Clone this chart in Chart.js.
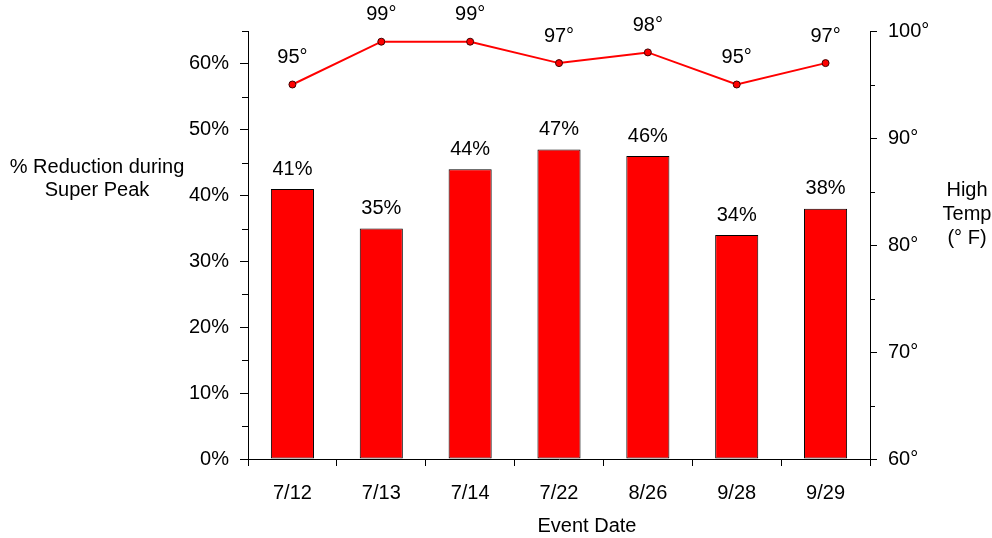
<!DOCTYPE html>
<html>
<head>
<meta charset="utf-8">
<script src="https://cdn.jsdelivr.net/npm/chart.js@4"></script>
<style>
  html, body { margin: 0; padding: 0; background: #fff; }
  #wrap { width: 992px; height: 538px; position: relative; }
</style>
</head>
<body>
<div id="wrap"><canvas id="chart"></canvas></div>
<script>
const eventDates = ['7/12', '7/13', '7/14', '7/22', '8/26', '9/28', '9/29'];
const reduction  = [41, 35, 44, 47, 46, 34, 38];
const highTemp   = [95, 99, 99, 97, 98, 95, 97];
const pctTicks   = [0, 10, 20, 30, 40, 50, 60];
const tempTicks  = [60, 70, 80, 90, 100];

const FONT = 'Liberation Sans, Arial, sans-serif';

// minor ticks, value labels and the horizontal axis titles
const extras = {
    id: 'extras',
    afterDraw(chart) {
        const ctx = chart.ctx;
        const y = chart.scales.y, y2 = chart.scales.y2;
        ctx.save();
        ctx.strokeStyle = '#000';
        ctx.lineWidth = 1;
        ctx.beginPath();
        for (let v = 5; v <= 65; v += 10) {
            const py = Math.round(y.getPixelForValue(v)) + 0.5;
            ctx.moveTo(y.right - 6, py);
            ctx.lineTo(y.right, py);
        }
        for (let v = 65; v <= 95; v += 10) {
            const py = Math.round(y2.getPixelForValue(v)) + 0.5;
            ctx.moveTo(y2.left, py);
            ctx.lineTo(y2.left + 5, py);
        }
        ctx.stroke();

        ctx.fillStyle = '#000';
        ctx.font = '20px ' + FONT;
        ctx.textAlign = 'center';
        ctx.textBaseline = 'middle';
        chart.getDatasetMeta(0).data.forEach((bar, i) => {
            ctx.fillText(reduction[i] + '%', bar.x, bar.y - 20);
        });
        chart.getDatasetMeta(1).data.forEach((pt, i) => {
            ctx.fillText(highTemp[i] + '°', pt.x, pt.y - 27);
        });

        ctx.fillText('% Reduction during', 97, 167);
        ctx.fillText('Super Peak', 97, 190);
        ctx.fillText('High', 967, 190);
        ctx.fillText('Temp', 967, 214);
        ctx.fillText('(° F)', 967, 238);
        ctx.fillText('Event Date', 587, 526);
        ctx.restore();
    }
};

new Chart(document.getElementById('chart'), {
    type: 'bar',
    data: {
        labels: eventDates,
        datasets: [
            {
                label: '% Reduction',
                data: reduction,
                backgroundColor: '#ff0000',
                borderColor: '#000',
                borderWidth: 1,
                borderSkipped: false,
                barPercentage: 0.485,
                categoryPercentage: 1,
                yAxisID: 'y',
                order: 2
            },
            {
                type: 'line',
                label: 'High Temp',
                data: highTemp,
                borderColor: '#ff0000',
                borderWidth: 2,
                pointRadius: 3.5,
                pointBackgroundColor: '#ff0000',
                pointBorderColor: '#400000',
                pointBorderWidth: 1,
                tension: 0,
                yAxisID: 'y2',
                order: 1
            }
        ]
    },
    options: {
        responsive: true,
        maintainAspectRatio: false,
        animation: false,
        layout: { padding: { top: 31, left: 0, right: 0, bottom: 0 } },
        plugins: {
            legend: { display: false },
            tooltip: { enabled: false }
        },
        scales: {
            x: {
                offset: true,
                grid: { drawOnChartArea: false, offset: true, tickLength: 7, color: '#000' },
                border: { color: '#000' },
                ticks: { color: '#000', font: { size: 20, family: FONT }, padding: 15, maxRotation: 0 },
                afterFit(scale) { scale.height = 79; }
            },
            y: {
                position: 'left',
                min: 0,
                max: 65,
                afterBuildTicks(scale) { scale.ticks = pctTicks.map(v => ({ value: v })); },
                grid: { drawOnChartArea: false, tickLength: 8, color: '#000' },
                border: { color: '#000' },
                ticks: { color: '#000', font: { size: 20, family: FONT }, padding: 11, callback: v => v + '%' },
                afterFit(scale) { scale.width = 248; }
            },
            y2: {
                position: 'right',
                min: 60,
                max: 100,
                afterBuildTicks(scale) { scale.ticks = tempTicks.map(v => ({ value: v })); },
                grid: { drawOnChartArea: false, tickLength: 7, color: '#000' },
                border: { color: '#000' },
                ticks: { color: '#000', font: { size: 20, family: FONT }, padding: 11, callback: v => v + '°' },
                afterFit(scale) { scale.width = 122; }
            }
        }
    },
    plugins: [extras]
});
</script>
</body>
</html>
